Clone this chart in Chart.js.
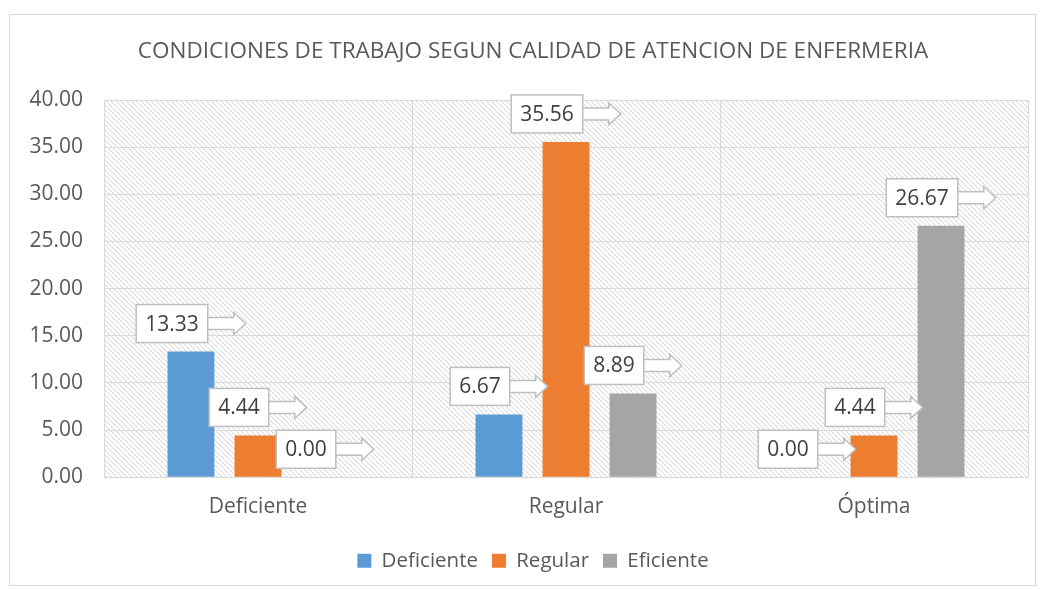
<!DOCTYPE html>
<html>
<head>
<meta charset="utf-8">
<script src="https://cdn.jsdelivr.net/npm/chart.js@4"></script>
<style>
    html, body { margin: 0; padding: 0; background: #fff; overflow: hidden; }
    #wrap { position: relative; width: 1044px; height: 589px; overflow: hidden; }
</style>
</head>
<body>
<div id="wrap"><canvas id="chart" width="1066" height="589"></canvas></div>
<script>
// ===== DATA =====
const categories = ["Deficiente", "Regular", "Óptima"];
const seriesNames = ["Deficiente", "Regular", "Eficiente"];
const deficienteValues = [13.33, 6.67, 0.00];
const regularValues = [4.44, 35.56, 4.44];
const eficienteValues = [0.00, 8.89, 26.67];
const seriesColors = ["#5B9BD5", "#ED7D31", "#A5A5A5"];

const FONT = "'Open Sans', 'Liberation Sans', sans-serif";
const TEXT = "#595959";

// diagonal hatch for the plot background
function makeHatch() {
    const c = document.createElement("canvas");
    c.width = 5; c.height = 5;
    const g = c.getContext("2d");
    g.strokeStyle = "#d4d4d4";
    g.lineWidth = 1;
    g.beginPath();
    g.moveTo(-1, -1); g.lineTo(6, 6);
    g.moveTo(-1, 4); g.lineTo(1, 6);
    g.moveTo(4, -1); g.lineTo(6, 1);
    g.stroke();
    return g.createPattern(c, "repeat");
}

const backgroundPlugin = {
    id: "background",
    beforeDraw(chart) {
        const ctx = chart.ctx;
        const a = chart.chartArea;
        ctx.save();
        ctx.fillStyle = "#fff";
        ctx.fillRect(0, 0, chart.width, chart.height);
        ctx.strokeStyle = "#d9d9d9";
        ctx.lineWidth = 1;
        ctx.strokeRect(9.5, 14.5, 1026, 571);
        ctx.fillStyle = makeHatch();
        ctx.fillRect(a.left, a.top, a.right - a.left, a.bottom - a.top);
        ctx.restore();
    }
};

// callout labels: white box with an outlined arrow pointing right
const calloutPlugin = {
    id: "callouts",
    afterDatasetsDraw(chart) {
        const ctx = chart.ctx;
        ctx.save();
        ctx.font = "21px " + FONT;
        chart.data.datasets.forEach((ds, i) => {
            chart.getDatasetMeta(i).data.forEach((bar, j) => {
                const text = ds.data[j].toFixed(2);
                const tw = ctx.measureText(text).width;
                const boxW = tw + 18, boxH = 38, arrowLen = 38;
                const left = bar.x - (boxW + arrowLen) / 2;
                const top = bar.y - 9 - boxH;
                const cy = top + boxH / 2;
                const bx = left + boxW;

                ctx.lineWidth = 1.5;
                ctx.strokeStyle = "#bfbfbf";
                ctx.fillStyle = "#fff";
                // arrow
                ctx.beginPath();
                ctx.moveTo(bx - 4, cy - 6);
                ctx.lineTo(bx + arrowLen - 12, cy - 6);
                ctx.lineTo(bx + arrowLen - 12, cy - 11);
                ctx.lineTo(bx + arrowLen, cy);
                ctx.lineTo(bx + arrowLen - 12, cy + 11);
                ctx.lineTo(bx + arrowLen - 12, cy + 6);
                ctx.lineTo(bx - 4, cy + 6);
                ctx.closePath();
                ctx.fill();
                ctx.stroke();
                // box
                ctx.fillRect(left, top, boxW, boxH);
                ctx.strokeRect(left, top, boxW, boxH);

                ctx.fillStyle = "#404040";
                ctx.textAlign = "center";
                ctx.textBaseline = "middle";
                ctx.fillText(text, left + boxW / 2, cy + 1);
            });
        });
        ctx.restore();
    }
};

new Chart(document.getElementById("chart"), {
    type: "bar",
    data: {
        labels: categories,
        datasets: [
            { label: seriesNames[0], data: deficienteValues, backgroundColor: seriesColors[0] },
            { label: seriesNames[1], data: regularValues, backgroundColor: seriesColors[1] },
            { label: seriesNames[2], data: eficienteValues, backgroundColor: seriesColors[2] },
        ],
    },
    options: {
        responsive: false,
        animation: false,
        categoryPercentage: 0.653,
        barPercentage: 0.70,
        layout: { padding: { left: 0, right: 0, top: 0, bottom: 8 } },
        plugins: {
            title: {
                display: true,
                text: "CONDICIONES DE TRABAJO SEGUN CALIDAD DE ATENCION DE ENFERMERIA",
                color: TEXT,
                font: { family: FONT, size: 22.5, weight: "normal" },
                padding: { top: 38, bottom: 35 },
            },
            legend: {
                position: "bottom",
                labels: {
                    color: TEXT,
                    font: { family: FONT, size: 20.5 },
                    boxWidth: 14,
                    boxHeight: 14,
                    padding: 14,
                },
            },
            tooltip: { enabled: false },
        },
        scales: {
            x: {
                grid: { color: "#d9d9d9", drawTicks: false },
                border: { color: "#d9d9d9" },
                ticks: { color: TEXT, font: { family: FONT, size: 21 }, padding: 17 },
            },
            y: {
                min: 0,
                max: 40,
                afterFit(scale) { scale.width = 104; },
                grid: { color: "#d9d9d9", drawTicks: false },
                border: { display: false },
                ticks: {
                    stepSize: 5,
                    color: TEXT,
                    font: { family: FONT, size: 21 },
                    padding: 21,
                    callback: v => v.toFixed(2),
                },
            },
            // empty right margin so title and legend centre like the original
            spacer: {
                type: "linear",
                position: "right",
                afterFit(scale) { scale.width = 38; },
                grid: { display: false },
                border: { display: false },
                ticks: { display: false },
            },
        },
    },
    plugins: [backgroundPlugin, calloutPlugin],
});
</script>
</body>
</html>
